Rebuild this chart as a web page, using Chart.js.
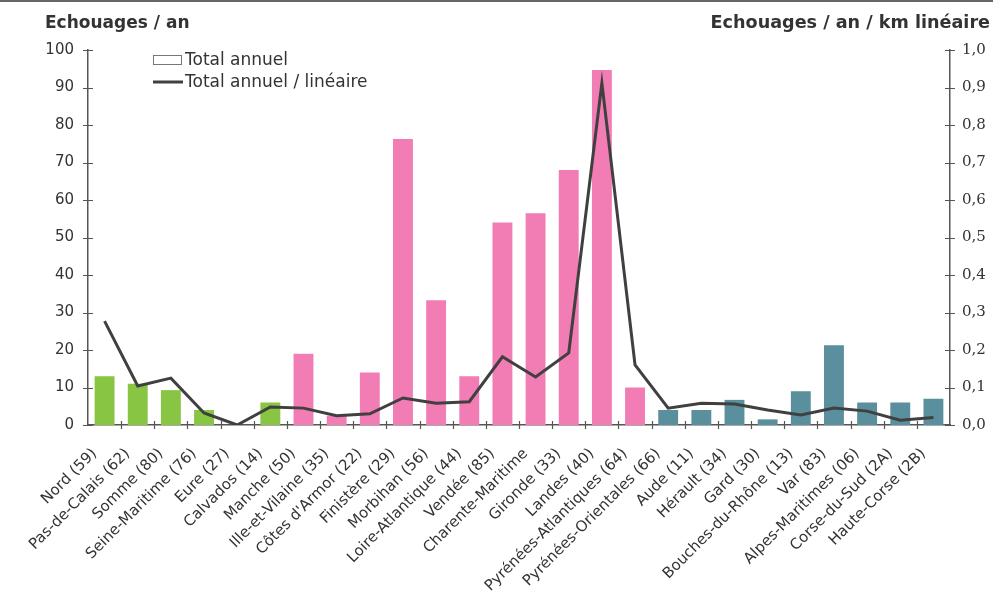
<!DOCTYPE html>
<html>
<head>
<meta charset="utf-8">
<script src="https://cdn.jsdelivr.net/npm/chart.js@4.4.1/dist/chart.umd.min.js"></script>
<style>
  html, body { margin: 0; padding: 0; background: #fff; }
  #wrap { width: 993px; height: 595px; position: relative; }
</style>
</head>
<body>
<div id="wrap"><canvas id="c" width="993" height="595"></canvas></div>
<script>
// Départements côtiers, du Nord à la Corse
const departements = [
  'Nord (59)', 'Pas-de-Calais (62)', 'Somme (80)', 'Seine-Maritime (76)', 'Eure (27)',
  'Calvados (14)', 'Manche (50)', 'Ille-et-Vilaine (35)', "Côtes d'Armor (22)", 'Finistère (29)',
  'Morbihan (56)', 'Loire-Atlantique (44)', 'Vendée (85)', 'Charente-Maritime', 'Gironde (33)',
  'Landes (40)', 'Pyrénées-Atlantiques (64)', 'Pyrénées-Orientales (66)', 'Aude (11)', 'Hérault (34)',
  'Gard (30)', 'Bouches-du-Rhône (13)', 'Var (83)', 'Alpes-Maritimes (06)', 'Corse-du-Sud (2A)',
  'Haute-Corse (2B)'
];

// Façade maritime de chaque département
const facades = [
  'nord', 'nord', 'nord', 'nord', 'nord', 'nord',
  'atlantique', 'atlantique', 'atlantique', 'atlantique', 'atlantique', 'atlantique',
  'atlantique', 'atlantique', 'atlantique', 'atlantique', 'atlantique',
  'mediterranee', 'mediterranee', 'mediterranee', 'mediterranee', 'mediterranee',
  'mediterranee', 'mediterranee', 'mediterranee', 'mediterranee'
];

// Échouages par an
const totalAnnuel = [
  13, 11, 9.3, 4, 0, 6, 19, 2.5, 14, 76.3,
  33.3, 13, 54, 56.5, 68, 94.7, 10, 4, 4, 6.7,
  1.5, 9, 21.3, 6, 6, 7
];

// Échouages par an et par km linéaire de côte
const totalLineaire = [
  0.277, 0.104, 0.125, 0.032, 0.0, 0.048, 0.045, 0.025, 0.03, 0.072,
  0.058, 0.062, 0.182, 0.128, 0.192, 0.912, 0.16, 0.045, 0.058, 0.056,
  0.04, 0.027, 0.045, 0.037, 0.013, 0.02
];

const leftTicks = [0, 10, 20, 30, 40, 50, 60, 70, 80, 90, 100];
const rightTicks = [0, 0.1, 0.2, 0.3, 0.4, 0.5, 0.6, 0.7, 0.8, 0.9, 1.0];

const couleurFacade = { nord: '#88c543', atlantique: '#f27cb4', mediterranee: '#5a8f9e' };
const axisColor = '#555';
const textColor = '#333';
const font = '"DejaVu Sans", Verdana, sans-serif';

// Axis ticks that cross the axis line on both sides
const crossTicks = {
  id: 'crossTicks',
  afterDatasetsDraw(chart) {
    const ctx = chart.ctx;
    const { left, right, bottom } = chart.chartArea;
    ctx.save();
    ctx.strokeStyle = axisColor;
    ctx.lineWidth = 1.2;
    const yL = chart.scales.y, yR = chart.scales.y2, x = chart.scales.x;
    ctx.beginPath();
    leftTicks.forEach(v => {
      const py = Math.round(yL.getPixelForValue(v)) + 0.5;
      ctx.moveTo(left - 5, py); ctx.lineTo(left + 5, py);
    });
    rightTicks.forEach(v => {
      const py = Math.round(yR.getPixelForValue(v)) + 0.5;
      ctx.moveTo(right - 5, py); ctx.lineTo(right + 5, py);
    });
    for (let i = 1; i < departements.length; i++) {
      const px = Math.round((x.getPixelForValue(i - 1) + x.getPixelForValue(i)) / 2) + 0.5;
      ctx.moveTo(px, bottom - 4); ctx.lineTo(px, bottom + 4);
    }
    ctx.stroke();
    ctx.restore();
  }
};

// Axis titles, legend and frame line
const decor = {
  id: 'decor',
  afterDraw(chart) {
    const ctx = chart.ctx;
    ctx.save();
    ctx.fillStyle = '#666';
    ctx.fillRect(0, 0, chart.width, 2);

    ctx.fillStyle = textColor;
    ctx.textBaseline = 'alphabetic';
    ctx.textAlign = 'left';
    ctx.font = 'bold 17px ' + font;
    ctx.fillText('Echouages / an', 45, 28);
    ctx.textAlign = 'right';
    ctx.font = 'bold 17.6px ' + font;
    ctx.fillText('Echouages / an / km linéaire', 990, 28);

    // Legend
    ctx.textAlign = 'left';
    ctx.textBaseline = 'middle';
    ctx.font = '17px ' + font;
    ctx.fillStyle = '#fff';
    ctx.fillRect(153.5, 55.5, 28, 9);
    ctx.strokeStyle = '#777';
    ctx.lineWidth = 1;
    ctx.strokeRect(153.5, 55.5, 28, 9);
    ctx.fillStyle = textColor;
    ctx.fillText('Total annuel', 185, 61);
    ctx.strokeStyle = '#404040';
    ctx.lineWidth = 3;
    ctx.beginPath();
    ctx.moveTo(153, 82); ctx.lineTo(183, 82);
    ctx.stroke();
    ctx.fillText('Total annuel / linéaire', 185, 83);
    ctx.restore();
  }
};

new Chart(document.getElementById('c'), {
  data: {
    labels: departements,
    datasets: [
      {
        type: 'line',
        label: 'Total annuel / linéaire',
        data: totalLineaire,
        yAxisID: 'y2',
        borderColor: '#404040',
        borderWidth: 3,
        pointRadius: 0,
        tension: 0,
        order: 0
      },
      {
        type: 'bar',
        label: 'Total annuel',
        data: totalAnnuel,
        yAxisID: 'y',
        backgroundColor: facades.map(f => couleurFacade[f]),
        barPercentage: 0.6,
        categoryPercentage: 1.0,
        order: 1
      }
    ]
  },
  options: {
    responsive: false,
    animation: false,
    layout: { padding: { top: 50, left: 0, right: 0, bottom: 0 } },
    plugins: { legend: { display: false }, tooltip: { enabled: false } },
    scales: {
      x: {
        type: 'category',
        offset: true,
        grid: { display: false },
        border: { display: true, color: axisColor, width: 1.5 },
        ticks: {
          color: textColor,
          font: { family: font, size: 15 },
          minRotation: 45,
          maxRotation: 45,
          autoSkip: false,
          padding: 12,
          labelOffset: -10
        },
        afterFit(scale) {
          scale.height = 170;
          scale.paddingLeft = 0;
          scale.paddingRight = 0;
        }
      },
      y: {
        position: 'left',
        min: 0,
        max: 100,
        grid: { display: false },
        border: { display: true, color: axisColor, width: 1.5 },
        afterBuildTicks(scale) { scale.ticks = leftTicks.map(v => ({ value: v })); },
        ticks: {
          color: textColor,
          font: { family: font, size: 15 },
          padding: 6
        },
        afterFit(scale) { scale.width = 88; }
      },
      y2: {
        position: 'right',
        min: 0,
        max: 1,
        grid: { display: false },
        border: { display: true, color: axisColor, width: 1.5 },
        afterBuildTicks(scale) { scale.ticks = rightTicks.map(v => ({ value: v })); },
        ticks: {
          color: textColor,
          font: { family: '"DejaVu Serif", serif', size: 15 },
          padding: 4,
          callback: v => v.toFixed(1).replace('.', ',')
        },
        afterFit(scale) { scale.width = 43; }
      }
    }
  },
  plugins: [crossTicks, decor]
});
</script>
</body>
</html>
